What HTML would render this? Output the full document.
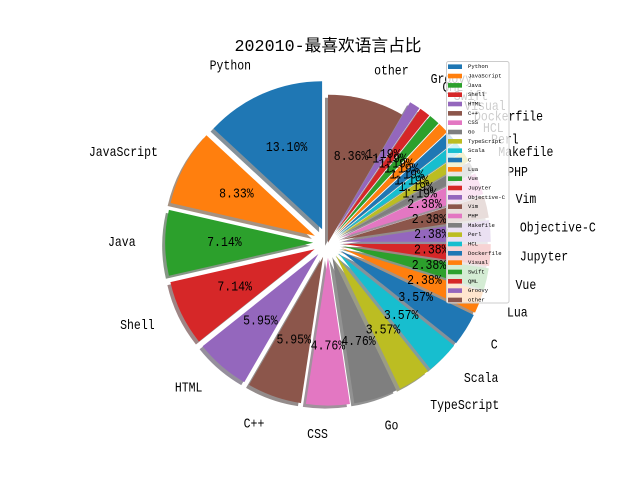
<!DOCTYPE html>
<html><head><meta charset="utf-8"><style>
html,body{margin:0;padding:0;background:#fff;}
svg text{font-family:"Liberation Mono","WenQuanYi Zen Hei",monospace;}
</style></head><body>
<svg id="chart" width="640" height="480" viewBox="0 0 640 480" xmlns="http://www.w3.org/2000/svg">
<rect width="640" height="480" fill="#fff"/>
<text x="328" y="51" text-anchor="middle" font-size="16.7" fill="#000">202010-最喜欢语言占比</text>
<g id="shadows"></g><g id="wedges"></g><g id="labels"></g><g id="legend"></g>
</svg>
<script>
const categories = ["Python","JavaScript","Java","Shell","HTML","C++","CSS","Go","TypeScript","Scala","C","Lua","Vue","Jupyter","Objective-C","Vim","PHP","Makefile","Perl","HCL","Dockerfile","Visual","Swift","QML","Groovy","other"];
const values = [13.10,8.33,7.14,7.14,5.95,5.95,4.76,4.76,3.57,3.57,3.57,2.38,2.38,2.38,2.38,2.38,2.38,1.19,1.19,1.19,1.19,1.19,1.19,1.19,1.19,8.36];
const explode = [0.1,0.1,0.1,0.1,0.1,0.1,0.1,0.1,0.1,0.1,0.1,0.1,0.1,0.1,0.1,0.1,0.1,0.1,0.1,0.1,0.1,0.1,0.1,0.1,0.1,0];
const palette = ["#1f77b4","#ff7f0e","#2ca02c","#d62728","#9467bd","#8c564b","#e377c2","#7f7f7f","#bcbd22","#17becf"];
const NS="http://www.w3.org/2000/svg";
const CX=328, CY=242.8, R=148;
const total = values.reduce((a,b)=>a+b,0);
function px(x){return CX+x*R;}
function py(y){return CY-y*R;}
function mk(tag,attrs,parent){const e=document.createElementNS(NS,tag);for(const k in attrs)e.setAttribute(k,attrs[k]);parent.appendChild(e);return e;}
function shade(hex){const n=parseInt(hex.slice(1),16);const r=(n>>16)&255,g=(n>>8)&255,b=n&255;return `rgb(${Math.round(r*0.3)},${Math.round(g*0.3)},${Math.round(b*0.3)})`;}
const gS=document.getElementById('shadows'),gW=document.getElementById('wedges'),gL=document.getElementById('labels'),gLeg=document.getElementById('legend');
let theta=90;
values.forEach((v,i)=>{
  const frac=v/total, t1=theta, t2=theta+frac*360, tm=(t1+t2)/2*Math.PI/180;
  theta=t2;
  const ex=explode[i];
  const ox=ex*Math.cos(tm), oy=ex*Math.sin(tm);
  const a1=t1*Math.PI/180,a2=t2*Math.PI/180;
  const large=(t2-t1)>180?1:0;
  function path(dx,dy){
    const x0=px(ox)+dx,y0=py(oy)+dy;
    const x1=px(ox+Math.cos(a1))+dx,y1=py(oy+Math.sin(a1))+dy;
    const x2=px(ox+Math.cos(a2))+dx,y2=py(oy+Math.sin(a2))+dy;
    return `M${x0},${y0}L${x1},${y1}A${R},${R} 0 ${large} 0 ${x2},${y2}Z`;
  }
  const col=palette[i%10];
  const s=mk('path',{d:path(-3,3),fill:shade(col),'fill-opacity':0.5},gS);
  
  
  const w=mk('path',{d:path(0,0),fill:col},gW);
  
  
  const lx=ox+1.2*Math.cos(tm), ly=oy+1.2*Math.sin(tm);
  const n=categories[i].length;
  const lt=mk('text',{x:px(lx),y:py(ly),'font-size':13.9,'text-anchor':lx>0?'start':'end','dominant-baseline':'central',textLength:n*6.9,lengthAdjust:'spacingAndGlyphs',fill:'#000'},gL);
  lt.textContent=categories[i];
  
  
  const qx=ox+0.6*Math.cos(tm), qy=oy+0.6*Math.sin(tm);
  const pct=(frac*100).toFixed(2)+'%';
  const pt=mk('text',{x:px(qx),y:py(qy),'font-size':13.9,'text-anchor':'middle','dominant-baseline':'central',textLength:pct.length*6.9,lengthAdjust:'spacingAndGlyphs',fill:'#000'},gL);
  pt.textContent=pct;
  
  
});
// legend
const box=mk('rect',{x:446.5,y:61.5,width:62.5,height:241.5,rx:2,fill:'#fff','fill-opacity':0.8,stroke:'#ccc','stroke-width':1},gLeg);


categories.forEach((c,i)=>{
  const yc=66.7+i*9.33;
  const h=mk('rect',{x:448,y:yc-2.3,width:14,height:4.6,fill:palette[i%10]},gLeg);
  
  
  const t=mk('text',{x:468,y:yc,'font-size':5.6,'dominant-baseline':'central',fill:'#000'},gLeg);
  t.textContent=c;
  
  
});
</script>
</body></html>
